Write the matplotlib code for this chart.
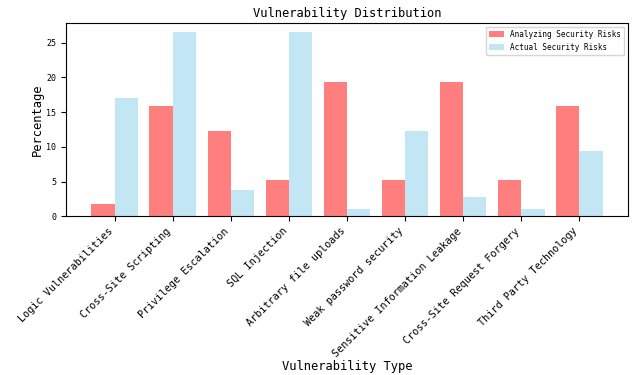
import numpy as np
import matplotlib
matplotlib.use("Agg")
import matplotlib.pyplot as plt

plt.rcParams['font.family'] = ['DejaVu Sans Mono', 'DejaVu Sans']

categories = ["Logic Vulnerabilities", "Cross-Site Scripting", "Privilege Escalation",
              "SQL Injection", "Arbitrary file uploads", "Weak password security",
              "Sensitive Information Leakage", "Cross-Site Request Forgery",
              "Third Party Technology"]
analyzing = [1.8, 15.9, 12.3, 5.3, 19.3, 5.3, 19.3, 5.3, 15.9]
actual = [17.0, 26.5, 3.8, 26.5, 1.0, 12.3, 2.8, 1.0, 9.4]

x = np.arange(len(categories))
width = 0.4

fig, ax = plt.subplots(figsize=(6.32, 3.75), dpi=100)
fig.subplots_adjust(left=0.104, right=0.994, top=0.939, bottom=0.423)
ax.bar(x - width / 2, analyzing, width, color="red", alpha=0.5, label="Analyzing Security Risks")
ax.bar(x + width / 2, actual, width, color="skyblue", alpha=0.5, label="Actual Security Risks")

ax.set_xticks(x)
ax.set_xticklabels(categories, rotation=45, ha="right", fontsize=7.3)
ax.tick_params(axis="y", labelsize=6)
ax.set_title("Vulnerability Distribution", fontsize=8.7, pad=4)
ax.set_xlabel("Vulnerability Type", fontsize=8.7)
ax.xaxis.set_label_coords(0.5, -0.74)
ax.set_ylabel("Percentage", fontsize=8.7)
ax.yaxis.set_label_coords(-0.038, 0.5)
ax.legend(loc="upper right", fontsize=5.5)

plt.savefig("out.png", dpi=100)
plt.close()
